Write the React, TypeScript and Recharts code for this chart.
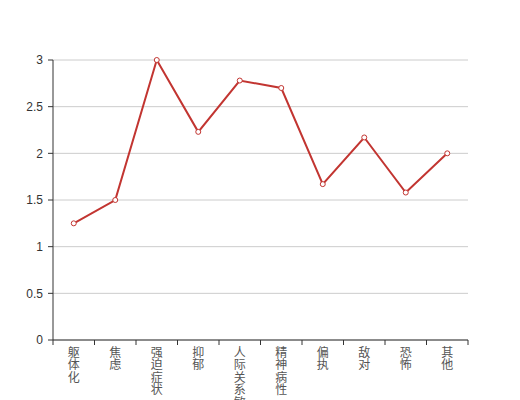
import React from "react"
import { LineChart, Line, XAxis, YAxis, CartesianGrid } from "recharts"

const categories = ["躯体化", "焦虑", "强迫症状", "抑郁", "人际关系敏感", "精神病性", "偏执", "敌对", "恐怖", "其他"]
const scores = [1.25, 1.5, 3, 2.23, 2.78, 2.7, 1.67, 2.17, 1.58, 2.0]
const yTicks = [0, 0.5, 1, 1.5, 2, 2.5, 3]

const W = 520
const H = 400
const M = { top: 60, right: 52, bottom: 0, left: 0 }
const Y_AXIS_W = 53
const X_AXIS_H = 60
const PLOT_W = W - M.left - M.right - Y_AXIS_W

const data = categories.map((name, i) => ({ name, value: scores[i] }))

function CategoryTick(props: any) {
  const { x, y, payload, index } = props
  const step = PLOT_W / categories.length
  const chars = String(payload.value).split("")
  const last = index === categories.length - 1
  return (
    <g>
      <line x1={x - step / 2} y1={y} x2={x - step / 2} y2={y + 5} stroke="#333" />
      {last && <line x1={x + step / 2} y1={y} x2={x + step / 2} y2={y + 5} stroke="#333" />}
      <text x={x} y={y} textAnchor="middle" fill="#555" fontSize={12} fontFamily="'Noto Sans CJK SC', sans-serif">
        {chars.map((c, i) => (
          <tspan key={i} x={x} y={y + 16.5 + i * 12.6}>
            {c}
          </tspan>
        ))}
      </text>
    </g>
  )
}

export default function App() {
  return (
    <div style={{ position: "absolute", left: 0, top: 0, width: W, height: H, background: "#fff", overflow: "hidden" }}>
      <LineChart width={W} height={H} data={data} margin={M}>
        <CartesianGrid vertical={false} stroke="#ccc" />
        <XAxis
          dataKey="name"
          interval={0}
          height={X_AXIS_H}
          tickLine={false}
          tickSize={0}
          tickMargin={0}
          axisLine={{ stroke: "#333" }}
          tick={<CategoryTick />}
          padding={{ left: PLOT_W / categories.length / 2, right: PLOT_W / categories.length / 2 }}
        />
        <YAxis
          width={Y_AXIS_W}
          domain={[0, 3]}
          ticks={yTicks}
          tickSize={5}
          tickMargin={5}
          tickLine={{ stroke: "#333" }}
          axisLine={{ stroke: "#333" }}
          tick={{ fill: "#333", fontSize: 12, fontFamily: "sans-serif" }}
        />
        <Line
          type="linear"
          dataKey="value"
          stroke="#c23531"
          strokeWidth={2}
          dot={{ r: 2.5, fill: "#fff", stroke: "#c23531", strokeWidth: 1 }}
          activeDot={false}
          isAnimationActive={false}
        />
      </LineChart>
    </div>
  )
}
